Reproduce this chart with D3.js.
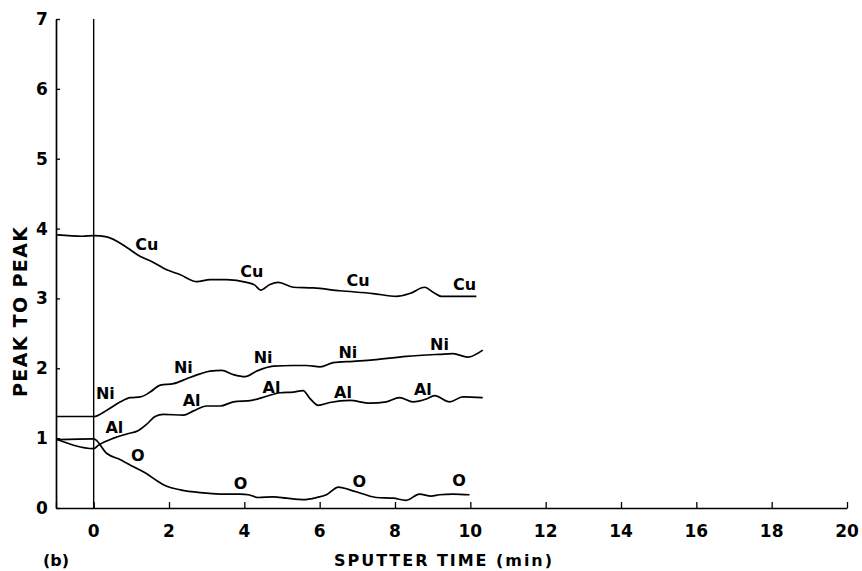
<!DOCTYPE html>
<html lang="en">
<head>
    <meta charset="UTF-8">
    <script src="https://cdn.jsdelivr.net/npm/d3@7"></script>
    <title>Peak to peak vs sputter time</title>
    <style>
        body{
            margin: 0;
            background: #ffffff;
        }
        text{
            font-family: 'DejaVu Sans', sans-serif;
            fill: #000;
        }
        .tick-label{
            font-size: 17px;
            font-weight: bold;
        }
        .curve-label{
            font-size: 16px;
            font-weight: bold;
        }
        .axis-title{
            font-size: 16px;
            font-weight: bold;
        }
    </style>
</head>
<body>
<svg id="canvas" width="862" height="571"></svg>
<script>
// sputter time (min), peak to peak height
let cuData = [[-0.97,3.91],[-0.3,3.89],[0,3.9],[0.35,3.88],[0.88,3.73],[1.24,3.6],[1.5,3.54],[1.94,3.41],[2.3,3.34],[2.74,3.24],[3.09,3.27],[3.53,3.27],[4.06,3.23],[4.28,3.19],[4.43,3.12],[4.68,3.2],[4.9,3.23],[5.3,3.16],[5.83,3.15],[6.54,3.11],[7.42,3.07],[8.04,3.03],[8.39,3.07],[8.79,3.16],[9.01,3.09],[9.23,3.03],[10.16,3.03]]

let niData = [[-0.97,1.31],[0,1.31],[0.35,1.4],[0.71,1.52],[0.97,1.58],[1.24,1.59],[1.5,1.66],[1.77,1.76],[2.12,1.78],[2.47,1.85],[2.83,1.92],[3.09,1.96],[3.4,1.97],[3.71,1.91],[4.02,1.88],[4.33,1.96],[4.77,2.03],[5.3,2.04],[5.65,2.04],[6.01,2.02],[6.36,2.08],[6.89,2.1],[7.42,2.12],[8.3,2.17],[9.18,2.2],[9.54,2.21],[9.93,2.16],[10.33,2.26]]

let alData = [[-0.97,0.98],[0,0.85],[0.13,0.9],[0.53,1.0],[0.88,1.06],[1.19,1.11],[1.41,1.2],[1.63,1.31],[1.85,1.34],[2.38,1.33],[2.65,1.39],[3.0,1.46],[3.36,1.46],[3.71,1.52],[4.2,1.54],[4.59,1.6],[4.95,1.65],[5.3,1.66],[5.56,1.68],[5.74,1.57],[5.96,1.47],[6.27,1.51],[6.8,1.54],[7.33,1.5],[7.77,1.52],[8.12,1.58],[8.48,1.52],[8.83,1.56],[9.05,1.61],[9.45,1.52],[9.8,1.59],[10.33,1.58]]

let oData = [[-0.97,0.98],[0,0.99],[0.35,0.78],[0.71,0.69],[1.06,0.59],[1.41,0.49],[1.68,0.39],[1.94,0.31],[2.3,0.26],[2.83,0.22],[3.36,0.2],[3.89,0.2],[4.11,0.19],[4.37,0.15],[4.77,0.16],[5.12,0.14],[5.56,0.12],[5.92,0.15],[6.18,0.19],[6.5,0.3],[6.8,0.26],[7.16,0.2],[7.51,0.15],[7.95,0.14],[8.3,0.11],[8.65,0.2],[8.96,0.17],[9.18,0.19],[9.54,0.2],[9.98,0.19]]

// label positions: [x, y, text]
let curveLabels = [
    [1.41,3.78,'Cu'],[4.2,3.39,'Cu'],[7.02,3.26,'Cu'],[9.85,3.2,'Cu'],
    [0.31,1.64,'Ni'],[2.38,2.02,'Ni'],[4.5,2.16,'Ni'],[6.75,2.23,'Ni'],[9.18,2.35,'Ni'],
    [0.55,1.16,'Al'],[2.6,1.54,'Al'],[4.72,1.73,'Al'],[6.62,1.66,'Al'],[8.74,1.71,'Al'],
    [1.17,0.76,'O'],[3.9,0.36,'O'],[7.05,0.38,'O'],[9.7,0.4,'O']
]

let xTicks = [0,2,4,6,8,10,12,14,16,18,20]
let yTicks = [0,1,2,3,4,5,6,7]

let canvas = d3.select('#canvas')

let xScale = d3.scaleLinear().domain([-1, 20]).range([56, 847])
let yScale = d3.scaleLinear().domain([0, 7]).range([508, 19])

// x axis, ticks pointing up
let xAxis = d3.axisBottom(xScale)
    .tickValues(xTicks.concat([-1]))
    .tickSizeInner(-6)
    .tickSizeOuter(0)
    .tickFormat('')
let gx = canvas.append('g')
    .attr('transform', 'translate(0,' + yScale(0) + ')')
    .call(xAxis)
gx.select('.domain').attr('stroke-width', 1.7)
gx.selectAll('.tick line').attr('stroke-width', 1.3)

// y axis, ticks pointing right
let yAxis = d3.axisLeft(yScale)
    .tickValues(yTicks)
    .tickSizeInner(-4)
    .tickSizeOuter(0)
    .tickFormat('')
let gy = canvas.append('g')
    .attr('transform', 'translate(' + xScale(-1) + ',0)')
    .call(yAxis)
gy.select('.domain').attr('stroke-width', 1.7)
gy.selectAll('.tick line').attr('stroke-width', 1.3)

// tick labels
canvas.selectAll('.xlab')
    .data(xTicks)
    .enter()
    .append('text')
    .attr('class', 'tick-label')
    .attr('x', (d) => xScale(d))
    .attr('y', 537)
    .attr('text-anchor', 'middle')
    .text((d) => d)

canvas.selectAll('.ylab')
    .data(yTicks)
    .enter()
    .append('text')
    .attr('class', 'tick-label')
    .attr('x', 42)
    .attr('y', (d) => yScale(d) + 6)
    .attr('text-anchor', 'middle')
    .text((d) => d)

// vertical line at t = 0
canvas.append('line')
    .attr('x1', xScale(0)).attr('x2', xScale(0))
    .attr('y1', yScale(0)).attr('y2', yScale(7))
    .attr('stroke', '#000')
    .attr('stroke-width', 1.4)

let line = d3.line()
    .x((d) => xScale(d[0]))
    .y((d) => yScale(d[1]))
    .curve(d3.curveMonotoneX)

canvas.selectAll('.curve')
    .data([cuData, niData, alData, oData])
    .enter()
    .append('path')
    .attr('class', 'curve')
    .attr('d', line)
    .attr('fill', 'none')
    .attr('stroke', '#000')
    .attr('stroke-width', 1.7)

canvas.selectAll('.curve-label')
    .data(curveLabels)
    .enter()
    .append('text')
    .attr('class', 'curve-label')
    .attr('x', (d) => xScale(d[0]))
    .attr('y', (d) => yScale(d[1]) + 6)
    .attr('text-anchor', 'middle')
    .text((d) => d[2])

// axis titles
canvas.append('text')
    .attr('class', 'axis-title')
    .style('font-size', '19px')
    .attr('transform', 'translate(27,312) rotate(-90)')
    .attr('text-anchor', 'middle')
    .attr('textLength', 170)
    .attr('lengthAdjust', 'spacing')
    .text('PEAK TO PEAK')

canvas.append('text')
    .attr('class', 'axis-title')
    .attr('x', 334)
    .attr('y', 566)
    .attr('textLength', 218)
    .attr('lengthAdjust', 'spacing')
    .text('SPUTTER  TIME (min)')

canvas.append('text')
    .attr('class', 'axis-title')
    .attr('x', 43)
    .attr('y', 566)
    .text('(b)')
</script>
</body>
</html>
